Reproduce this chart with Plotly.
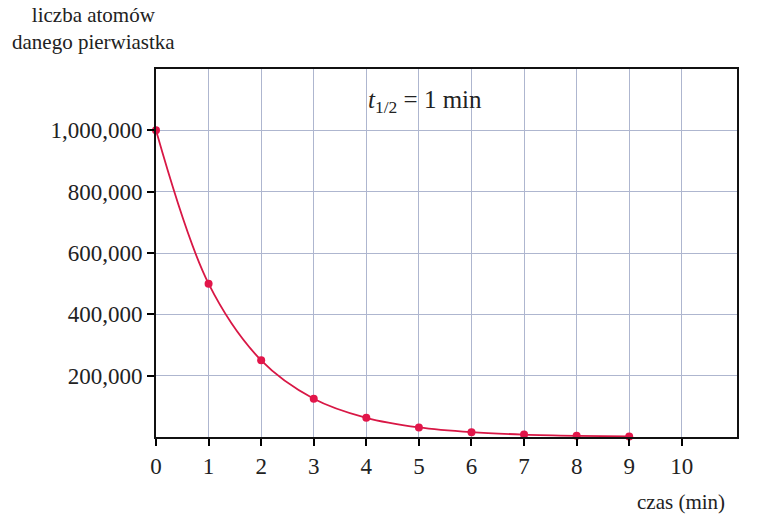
import plotly.graph_objs as go

# czas (min) i liczba atomów
czas = [0, 1, 2, 3, 4, 5, 6, 7, 8, 9]
atomy = [1000000, 500000, 250000, 125000, 62500, 31250, 15625, 7812, 3906, 1953]

y_ticks = [200000, 400000, 600000, 800000, 1000000]
y_labels = ["200,000", "400,000", "600,000", "800,000", "1,000,000"]
x_ticks = [0, 1, 2, 3, 4, 5, 6, 7, 8, 9, 10]

font_family = "Liberation Serif, DejaVu Serif, serif"
red = "#e2164a"

W, H = 768, 517
L, R, T, B = 156, 31, 69, 80
pw = W - L - R
ph = H - T - B

trace = go.Scatter(
    x=czas,
    y=atomy,
    mode="lines+markers",
    line=dict(color="#d81745", width=1.8, shape="spline", smoothing=1.0),
    marker=dict(color=red, size=8),
    cliponaxis=False,
    showlegend=False,
)

axis_style = dict(
    ticks="outside",
    ticklen=7,
    tickwidth=1.5,
    tickcolor="black",
    tickfont=dict(size=23, family=font_family, color="#222222"),
    showgrid=True,
    gridcolor="#aeb6cf",
    gridwidth=1,
    showline=True,
    linecolor="#111111",
    linewidth=2,
    mirror=True,
    zeroline=False,
)

layout = go.Layout(
    width=W,
    height=H,
    margin=dict(l=L, r=R, t=T, b=B),
    paper_bgcolor="white",
    plot_bgcolor="white",
    font=dict(family=font_family, color="#222222"),
    xaxis=dict(range=[0, 11.05], tickvals=x_ticks,
               ticktext=[str(v) for v in x_ticks], **axis_style),
    yaxis=dict(range=[0, 1200000], tickvals=y_ticks,
               ticktext=y_labels, **axis_style),
    annotations=[
        dict(
            text="liczba atomów<br>danego pierwiastka",
            xref="paper", yref="paper",
            x=(93 - 156) / pw, y=1 + (69 - 28) / ph,
            xanchor="center", yanchor="middle",
            showarrow=False, align="center",
            font=dict(size=21, family=font_family, color="#222222"),
        ),
        dict(
            text="czas (min)",
            xref="paper", yref="paper",
            x=(727 - 156) / pw, y=-(502 - 437) / ph,
            xanchor="right", yanchor="middle",
            showarrow=False,
            font=dict(size=21, family=font_family, color="#222222"),
        ),
        dict(
            text="<i>t</i><sub>1/2</sub> = 1 min",
            xref="paper", yref="paper",
            x=(425 - 156) / pw, y=(437 - 101) / ph,
            xanchor="center", yanchor="middle",
            showarrow=False,
            font=dict(size=25, family=font_family, color="#222222"),
        ),
    ],
)

fig = go.Figure(data=[trace], layout=layout)
# drop the default 8px page margin so the figure fills the window exactly
fig.write_html("out.html", config={"displayModeBar": False},
               post_script="document.body.style.margin='0px';")
